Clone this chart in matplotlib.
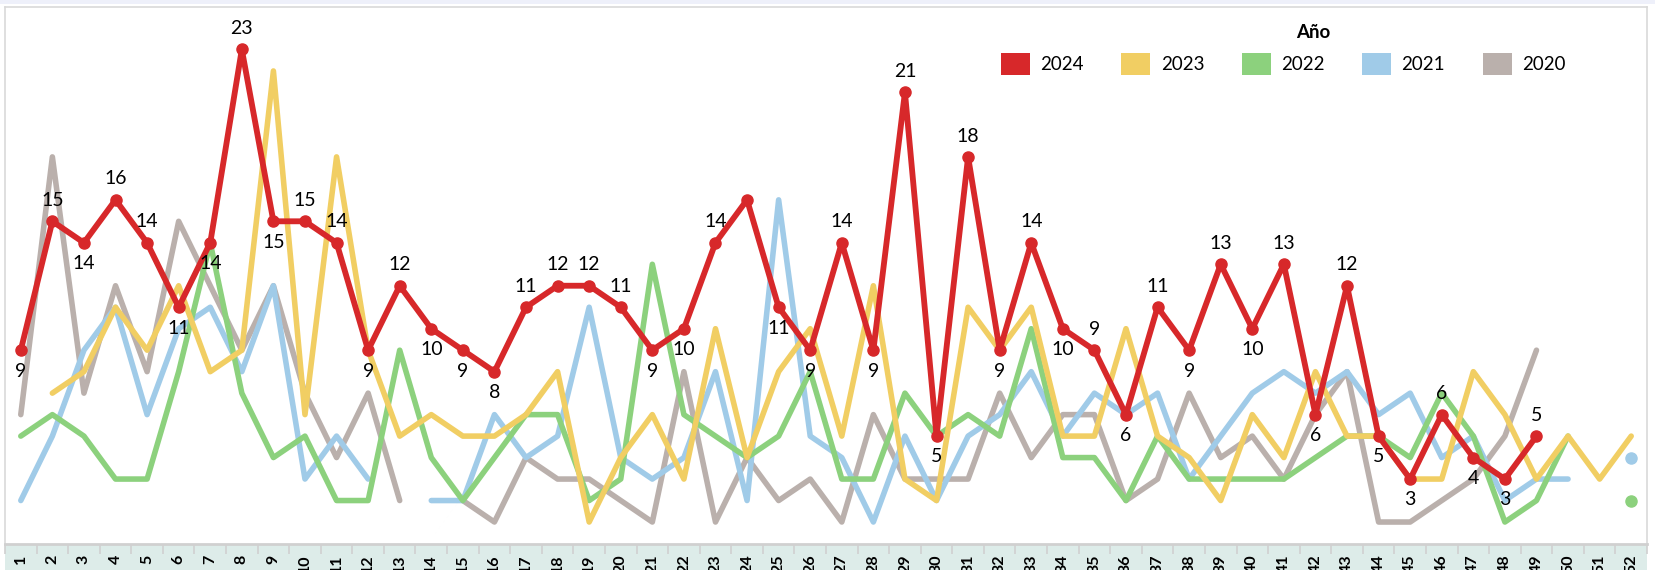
import numpy as np
import matplotlib
matplotlib.use("Agg")
import matplotlib.pyplot as plt
from matplotlib.patches import Patch, Rectangle

plt.rcParams["font.family"] = ["Lato", "DejaVu Sans"]

nan = np.nan
weeks = list(range(1, 53))

# casos por semana, un array por año
y2024 = [9, 15, 14, 16, 14, 11, 14, 23, 15, 15, 14, 9, 12, 10, 9, 8, 11, 12, 12, 11,
         9, 10, 14, 16, 11, 9, 14, 9, 21, 5, 18, 9, 14, 10, 9, 6, 11, 9, 13, 10,
         13, 6, 12, 5, 3, 6, 4, 3, 5, nan, nan, nan]
y2023 = [nan, 7, 8, 11, 9, 12, 8, 9, 22, 6, 18, 9, 5, 6, 5, 5, 6, 8, 1, 4,
         6, 3, 10, 4, 8, 10, 5, 12, 3, 2, 11, 9, 11, 5, 5, 10, 5, 4, 2, 6,
         4, 8, 5, 5, 3, 3, 8, 6, 3, 5, 3, 5]
y2022 = [5, 6, 5, 3, 3, 8, 14, 7, 4, 5, 2, 2, 9, 4, 2, 4, 6, 6, 2, 3,
         13, 6, 5, 4, 5, 8, 3, 3, 7, 5, 6, 5, 10, 4, 4, 2, 5, 3, 3, 3,
         3, 4, 5, 5, 4, 7, 5, 1, 2, 5, nan, 2]
y2021 = [2, 5, 9, 11, 6, 10, 11, 8, 12, 3, 5, 3, nan, 2, 2, 6, 4, 5, 11, 4,
         3, 4, 8, 2, 16, 5, 4, 1, 5, 2, 5, 6, 8, 5, 7, 6, 7, 3, 5, 7,
         8, 7, 8, 6, 7, 4, 5, 2, 3, 3, nan, 4]
y2020 = [6, 18, 7, 12, 8, 15, 12, 9, 12, 7, 4, 7, 2, nan, 2, 1, 4, 3, 3, 2,
         1, 8, 1, 4, 2, 3, 1, 6, 3, 3, 3, 7, 4, 6, 6, 2, 3, 7, 4, 5,
         3, 6, 8, 1, 1, 2, 3, 5, 9, nan, nan, nan]

# posición de la etiqueta de 2024: a = arriba, b = abajo, "" = sin etiqueta
label_side = ["b", "a", "b", "a", "a", "b", "b", "a", "b", "a", "a", "b", "a", "b", "b", "b",
              "a", "a", "a", "a", "b", "b", "a", "", "b", "b", "a", "b", "a", "b", "a", "b",
              "a", "b", "a", "b", "a", "b", "a", "b", "a", "b", "a", "b", "b", "a", "b", "b", "a"]

years = ["2024", "2023", "2022", "2021", "2020"]
colors = {"2024": "#D7282A", "2023": "#F1CE63", "2022": "#8CD17D",
          "2021": "#A0CBE8", "2020": "#BAB0AC"}
series = {"2024": y2024, "2023": y2023, "2022": y2022, "2021": y2021, "2020": y2020}
zorders = {"2020": 2, "2021": 3, "2022": 4, "2023": 5, "2024": 6}

W, H = 1656, 570
fig = plt.figure(figsize=(W / 100, H / 100), dpi=100)
ax = fig.add_axes([5 / W, 1 - 543.5 / H, 1642 / W, 537 / H])

# franja de etiquetas del eje y banda superior (debajo de los ejes)
fig.patches.append(Rectangle((5 / W, 0), 1642 / W, 1 - 543.5 / H, transform=fig.transFigure,
                             facecolor="#DDECE9", edgecolor="none", zorder=-1))
fig.patches.append(Rectangle((0, 1 - 4 / H), 1, 4 / H, transform=fig.transFigure,
                             facecolor="#EEF0FA", edgecolor="none", zorder=-1))

for yr in ["2020", "2021", "2022", "2023", "2024"]:
    vals = np.array(series[yr], dtype=float)
    if yr == "2024":
        ax.plot(weeks, vals, color=colors[yr], lw=4.2, marker="o", ms=8,
                solid_joinstyle="round", zorder=zorders[yr])
    else:
        ax.plot(weeks, vals, color=colors[yr], lw=4.0, solid_joinstyle="round",
                solid_capstyle="round", zorder=zorders[yr])
        # puntos aislados
        for i, v in enumerate(vals):
            if np.isnan(v):
                continue
            left = i == 0 or np.isnan(vals[i - 1])
            right = i == len(vals) - 1 or np.isnan(vals[i + 1])
            if left and right:
                ax.plot(weeks[i], v, "o", color=colors[yr], ms=8, zorder=zorders[yr])

for i, side in enumerate(label_side):
    if not side:
        continue
    dy = 15 if side == "a" else -15
    ax.annotate(f"{y2024[i]:g}", (weeks[i], y2024[i]), xytext=(0, dy),
                textcoords="offset points", ha="center", va="center",
                fontsize=14, color="black", zorder=10)

ax.set_xlim(0.5, 52.5)
ax.set_ylim(0, 25)
ax.set_yticks([])
ax.set_xticks(weeks)
ax.set_xticklabels([str(w) for w in weeks], rotation=90, fontweight="bold",
                   fontsize=11.5, va="top")
ax.tick_params(axis="x", which="major", length=0, pad=8)
ax.set_xticks(np.arange(0.5, 53, 1), minor=True)
ax.tick_params(axis="x", which="minor", length=7, width=1.2, color="#D0D0D0",
               direction="out")
for s in ["top", "left", "right"]:
    ax.spines[s].set_color("#D9D9D9")
    ax.spines[s].set_linewidth(1.2)
ax.spines["bottom"].set_color("#D0D0D0")
ax.spines["bottom"].set_linewidth(2)

handles = [Patch(facecolor=colors[yr], edgecolor="none", label=yr) for yr in years]
fig.legend(handles=handles, loc="center left", bbox_to_anchor=(1001 / W, 1 - 64 / H),
           ncol=5, frameon=False, fontsize=13.5, borderpad=0, borderaxespad=0,
           handlelength=1.55, handleheight=1.5, handletextpad=0.55, columnspacing=2.0)
fig.text(1313 / W, 1 - 33 / H, "Año", ha="center", va="center",
         fontsize=13.5, fontweight="bold")

fig.savefig("out.png", dpi=100)
